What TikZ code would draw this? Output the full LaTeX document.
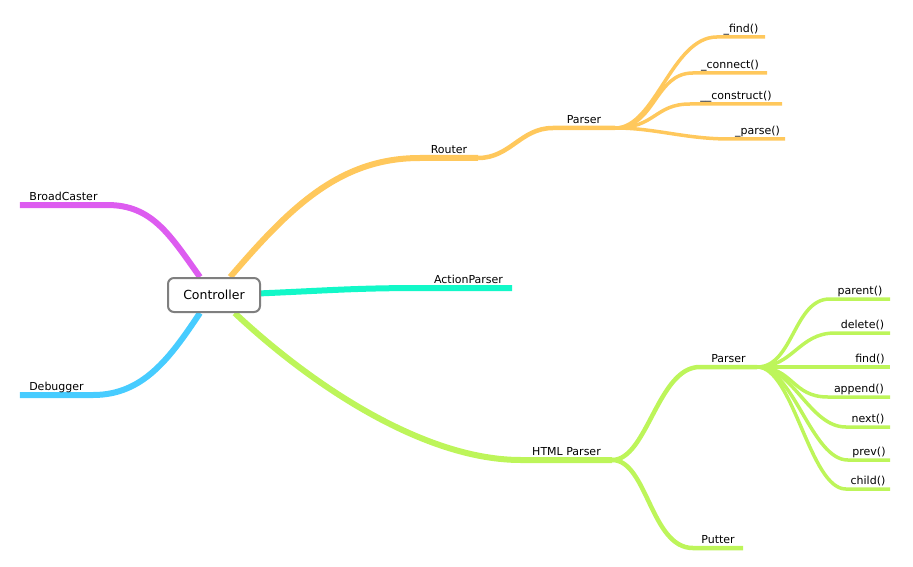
\documentclass[tikz,border=0pt]{standalone}
\usepackage{fontspec}
\setmainfont{DejaVu Sans}
\usepackage{tikz}
\usetikzlibrary{backgrounds}
\definecolor{mmMagenta}{HTML}{DD5CF0}
\definecolor{mmCyan}{HTML}{47CCFF}
\definecolor{mmOrange}{HTML}{FFC85C}
\definecolor{mmTeal}{HTML}{12F8C8}
\definecolor{mmGreen}{HTML}{BDF55A}
\definecolor{mmFrame}{HTML}{7F7F7F}
\tikzset{
  mm map/.style={x=1pt, y=-1pt, line cap=round, line join=round},
  mm root/.style={draw=mmFrame, fill=white, line width=2pt,
    rounded corners=6pt, minimum width=92pt, minimum height=34pt,
    font=\fontsize{12.5}{15}\selectfont},
  mm topic/.style={anchor=south, inner xsep=0pt, inner ysep=4.5pt,
    text depth=0pt, minimum width=#1, font=\fontsize{11}{13}\selectfont},
  mm main/.style={line width=6pt},
  mm sub/.style={line width=4.5pt},
  mm leaf/.style={line width=3.5pt}
}

\begin{document}
\begin{tikzpicture}[mm map]
\useasboundingbox (0,0) rectangle (913,567);
\node[mm root] (ctrl) at (214,295) {Controller};
\node[mm topic=87pt] (broad) at (63.5,205) {BroadCaster};
\node[mm topic=73pt] (debug) at (56.5,395) {Debugger};
\node[mm topic=58pt] (router) at (449,158) {Router};
\node[mm topic=87pt] (action) at (468.5,288) {ActionParser};
\node[mm topic=91pt] (html) at (566.5,460) {HTML Parser};
\node[mm topic=62pt] (rparser) at (584,128) {Parser};
\node[mm topic=57pt] (hparser) at (728.5,367) {Parser};
\node[mm topic=50pt] (putter) at (718,548) {Putter};
% router parser methods
\node[mm topic=48pt] (rfind) at (741,37) {\_find()};
\node[mm topic=74pt] (rconnect) at (730,73) {\_connect()};
\node[mm topic=92pt] (rconstruct) at (736,104) {\_\_construct()};
\node[mm topic=55pt] (rparse) at (757.5,139) {\_parse()};
\begin{scope}[on background layer]
\draw[mmMagenta, mm main] (ctrl.128) .. controls +(-30,-42) and +(45,0) .. (broad.south east) -- (broad.south west);
\draw[mmCyan, mm main] (ctrl.232) .. controls +(-30,45) and +(50,0) .. (debug.south east) -- (debug.south west);
\draw[mmTeal, mm main] (ctrl.2) .. controls +(70,-3) and +(-70,0) .. (action.south west) -- (action.south east);
\draw[mmOrange, mm main] (ctrl.48) .. controls +(60,-70) and +(-80,0) .. (router.south west) -- (router.south east);
\draw[mmOrange, mm sub] (router.south east) .. controls +(32,0) and +(-32,0) .. (rparser.south west) -- (rparser.south east);
\foreach \meth/\bend in {rfind/45,rconnect/38,rconstruct/35,rparse/45}
  \draw[mmOrange, mm leaf] (rparser.south east) .. controls +(40,0) and +(-\bend,0) .. (\meth.south west) -- (\meth.south east);
\draw[mmGreen, mm main] (ctrl.319) .. controls +(80,75) and +(-95,0) .. (html.south west) -- (html.south east);
\draw[mmGreen, mm sub] (html.south east) .. controls +(35,0) and +(-42,0) .. (hparser.south west) -- (hparser.south east);
\draw[mmGreen, mm sub] (html.south east) .. controls +(35,0) and +(-42,0) .. (putter.south west) -- (putter.south east);
\end{scope}
% html parser methods
\foreach \meth/\ypos/\flat in {parent/299/60,delete/333/55,find/367/40,append/397/62,next/427/44,prev/460/42,child/489/44}{
  \node[mm topic=\flat pt] (\meth) at ({890-\flat/2},\ypos) {\meth()};
  \begin{scope}[on background layer]
  \draw[mmGreen, mm leaf] (hparser.south east) .. controls +(36,0) and +(-36,0) .. (\meth.south west) -- (\meth.south east);
  \end{scope}
}
\end{tikzpicture}
\end{document}
